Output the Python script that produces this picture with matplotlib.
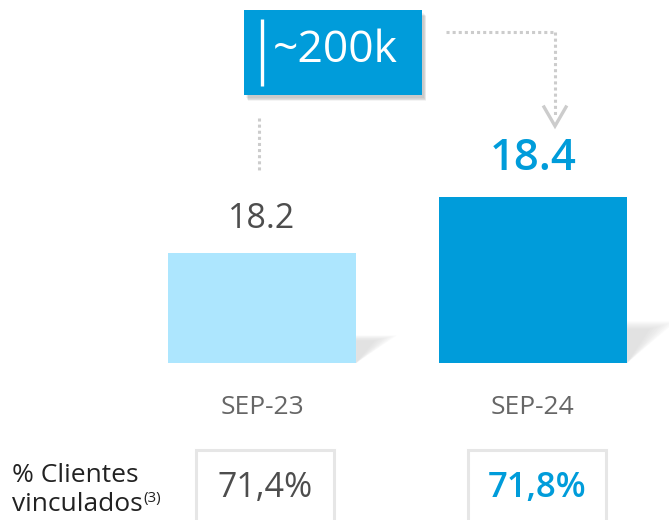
import matplotlib
matplotlib.use("Agg")
import matplotlib.pyplot as plt
from matplotlib.patches import Rectangle, Polygon
import numpy as np

# ---- data ----
categories = ["SEP-23", "SEP-24"]
values = [18.2, 18.4]
value_labels = ["18.2", "18.4"]
pct_labels = ["71,4%", "71,8%"]
callout_label = "~200k"
row_label_1 = "% Clientes"
row_label_2 = "vinculados"
row_label_sup = "(3)"

BLUE = "#009CDA"
LIGHT = "#ADE6FE"
GRAY_TXT = "#4D4D4D"
AXIS_TXT = "#666666"
DOT = "#CCCCCC"

plt.rcParams["font.family"] = ["Open Sans", "DejaVu Sans"]

W, H = 671, 520
fig = plt.figure(figsize=(W / 100, H / 100), dpi=100)

# bar axes (pixel-aligned layout)
base = 17.807
px_per_unit = 280.0
ax_left, ax_bottom_px = 126.5, 363
ax = fig.add_axes([ax_left / W, (H - ax_bottom_px) / H, 542 / W, ax_bottom_px / H])
ax.set_xlim(-0.5, 1.5)
ax.set_ylim(base, base + ax_bottom_px / px_per_unit)
ax.axis("off")

x = np.arange(len(categories))
heights = [v - base for v in values]
bar_w = 0.694
colors = [LIGHT, BLUE]

# soft shadows to the right of each bar
for i, (xi, h) in enumerate(zip(x, heights)):
    right = xi + bar_w / 2
    sh = h * 0.25
    ext = 0.15 + 0.03 * i
    for k in range(8):
        s = k / 8
        poly = Polygon(
            [
                (right, base + sh * (1 - 0.2 * s)),
                (right + ext * (1 - 0.6 * s), base + sh * (1 - 0.2 * s)),
                (right, base),
            ],
            closed=True, facecolor="#c4c4c4", edgecolor="none", alpha=0.07, zorder=1,
        )
        ax.add_patch(poly)

ax.bar(x, heights, bottom=base, width=bar_w, color=colors, zorder=3)

# value labels
ax.annotate(value_labels[0], (x[0], values[0]), xytext=(0, 34), textcoords="offset pixels",
            ha="center", va="center", fontsize=24.5, color=GRAY_TXT, zorder=4)
ax.annotate(value_labels[1], (x[1], values[1]), xytext=(0, 38), textcoords="offset pixels",
            ha="center", va="center", fontsize=31.5, color=BLUE, fontweight="semibold", zorder=4)

# category labels
for xi, c in zip(x, categories):
    ax.annotate(c, (xi, base), xytext=(0, -44), textcoords="offset pixels",
                ha="center", va="center", fontsize=19, color=AXIS_TXT)

# overlay in pixel coords
ov = fig.add_axes([0, 0, 1, 1], facecolor="none")
ov.set_xlim(0, W)
ov.set_ylim(H, 0)
ov.axis("off")

# callout box shadow + box
for k in range(5):
    ov.add_patch(Rectangle((244 + 2 + k * 0.6, 10 + 3 + k * 0.8), 178, 85,
                           facecolor="#000000", alpha=0.045, edgecolor="none", zorder=2))
ov.add_patch(Rectangle((244, 10), 178, 85, facecolor=BLUE, edgecolor="none", zorder=3))
ov.plot([262, 262], [19, 86], color="white", lw=2.4, solid_capstyle="butt", zorder=4)
ov.text(335, 51, callout_label, ha="center", va="center", fontsize=32, color="white",
        fontweight="medium", zorder=5)

# dotted connectors
dot_kw = dict(color=DOT, lw=2.2, linestyle=(0, (1, 1)), zorder=2)
ov.plot([446, 555], [32, 32], **dot_kw)
ov.plot([555, 555], [32, 116], **dot_kw)
ov.plot([544, 555, 566], [107, 126, 107], color=DOT, lw=2.4, solid_joinstyle="miter", zorder=2)
ov.plot([259, 259], [118, 170], **dot_kw)

# bottom boxes
box_centers = [265, 537]
for bc in box_centers:
    ov.add_patch(Rectangle((bc - 69, 450), 138, 90, facecolor="white",
                           edgecolor="#E6E6E6", lw=2.2, zorder=2))
ov.text(box_centers[0], 488, pct_labels[0], ha="center", va="center", fontsize=24.5,
        color=GRAY_TXT, zorder=3)
ov.text(box_centers[1], 488, pct_labels[1], ha="center", va="center", fontsize=25,
        color=BLUE, fontweight="semibold", zorder=3)

ov.text(12, 482, row_label_1, ha="left", va="baseline", fontsize=19, color="#222222")
t2 = ov.text(12, 511, row_label_2, ha="left", va="baseline", fontsize=19, color="#222222")
fig.canvas.draw()
bb = t2.get_window_extent()
x_end = ov.transData.inverted().transform((bb.x1, bb.y0))[0]
ov.text(x_end + 1, 502, row_label_sup, ha="left", va="baseline", fontsize=11, color="#222222")

fig.savefig("out.png", dpi=100)
